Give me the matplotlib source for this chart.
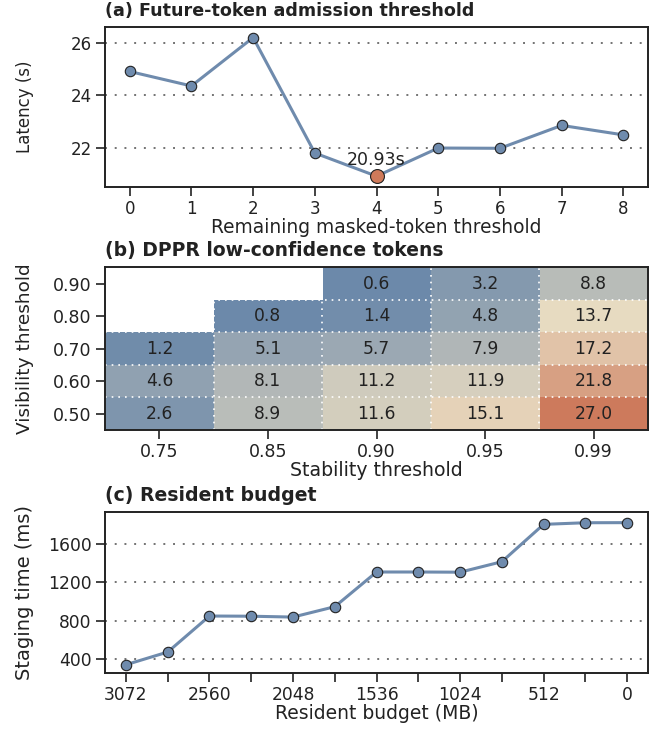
"""Three-panel sensitivity figure: admission threshold, DPPR heatmap, resident budget."""

import numpy as np
import matplotlib
matplotlib.use("Agg")
import matplotlib.pyplot as plt
from matplotlib.colors import LinearSegmentedColormap

# (a) latency vs remaining masked-token threshold
THRESHOLDS = [0, 1, 2, 3, 4, 5, 6, 7, 8]
LATENCY_S = [24.91, 24.36, 26.20, 21.81, 20.93, 22.00, 21.99, 22.86, 22.50]

# (b) DPPR low-confidence tokens (rows top->bottom = visibility 0.90 .. 0.50)
STABILITY = ["0.75", "0.85", "0.90", "0.95", "0.99"]
VISIBILITY = ["0.90", "0.80", "0.70", "0.60", "0.50"]
DPPR = [
    [np.nan, np.nan, 0.6, 3.2, 8.8],
    [np.nan, 0.8, 1.4, 4.8, 13.7],
    [1.2, 5.1, 5.7, 7.9, 17.2],
    [4.6, 8.1, 11.2, 11.9, 21.8],
    [2.6, 8.9, 11.6, 15.1, 27.0],
]

# (c) staging time vs resident budget
BUDGET_MB = [3072, 2816, 2560, 2304, 2048, 1792, 1536, 1280, 1024, 768, 512, 256, 0]
STAGING_MS = [337, 470, 848, 846, 837, 946, 1310, 1310, 1308, 1418, 1810, 1827, 1828]

BLUE = "#6f8bad"
ORANGE = "#cf7a5a"
INK = "#222222"

plt.rcParams.update({
    "font.family": "DejaVu Sans",
    "font.size": 12,
    "text.color": INK,
    "axes.labelcolor": INK,
    "axes.edgecolor": INK,
    "axes.linewidth": 1.4,
    "xtick.color": INK,
    "ytick.color": INK,
    "xtick.major.size": 6.2,
    "ytick.major.size": 6.2,
    "xtick.major.width": 1.2,
    "ytick.major.width": 1.2,
    "xtick.labelsize": 12.3,
    "ytick.labelsize": 12.3,
})

fig = plt.figure(figsize=(6.54, 7.29), dpi=100)
L, W = 0.1606, 0.8303
ax_a = fig.add_axes([L, 0.7439, W, 0.2190])
ax_b = fig.add_axes([L, 0.4102, W, 0.2232])
ax_c = fig.add_axes([L, 0.0772, W, 0.2209])

grid_kw = dict(color="0.45", linestyle=(0, (1, 4)), linewidth=1.4)


def decorate(ax, title, xlabel, ylabel, tsize, xsize, ysize):
    ax.set_title(title, loc="left", fontweight="bold", fontsize=tsize, pad=8)
    ax.set_xlabel(xlabel, fontsize=xsize, labelpad=0)
    ax.set_ylabel(ylabel, fontsize=ysize)
    ax.yaxis.set_label_coords(-0.131, 0.5)


# ---- (a)
ax_a.plot(THRESHOLDS, LATENCY_S, color=BLUE, linewidth=2.2, marker="o",
          markersize=7.5, markerfacecolor=BLUE, markeredgecolor=INK,
          markeredgewidth=0.8, zorder=3)
best = int(np.argmin(LATENCY_S))
ax_a.plot(THRESHOLDS[best], LATENCY_S[best], marker="o", markersize=10,
          markerfacecolor=ORANGE, markeredgecolor=INK, markeredgewidth=0.8,
          zorder=4)
ax_a.annotate(f"{LATENCY_S[best]:.2f}s", (THRESHOLDS[best], LATENCY_S[best]),
              xytext=(0, 5), textcoords="offset points", ha="center",
              va="bottom", fontsize=12.5)
ax_a.set_yticks([22, 24, 26])
ax_a.set_xticks(THRESHOLDS)
ax_a.tick_params(labelsize=12)
ax_a.set_xlim(-0.4, 8.4)
ax_a.set_ylim(min(LATENCY_S) - 0.4, max(LATENCY_S) + 0.4)
ax_a.yaxis.grid(True, **grid_kw)
ax_a.set_axisbelow(True)
decorate(ax_a, "(a) Future-token admission threshold",
         "Remaining masked-token threshold", "Latency (s)", 12.6, 13.4, 12)

# ---- (b)
cmap = LinearSegmentedColormap.from_list("bo", ["#6c89aa", "#e8dcc2", "#cd7a5c"])
cmap.set_bad("white")
vals = np.ma.masked_invalid(np.array(DPPR))
nr, nc = vals.shape
ax_b.imshow(vals, cmap=cmap, aspect="auto", interpolation="nearest",
            vmin=vals.min(), vmax=vals.max(),
            extent=(-0.5, nc - 0.5, nr - 0.5, -0.5))
for i in range(nr):
    for j in range(nc):
        if not np.ma.is_masked(vals[i, j]):
            ax_b.text(j, i, f"{vals[i, j]:.1f}", ha="center", va="center",
                      fontsize=12.3, color=INK)
for k in range(1, nr):
    ax_b.axhline(k - 0.5, color="white", linestyle=(0, (1, 3)), linewidth=1.2)
for k in range(1, nc):
    ax_b.axvline(k - 0.5, color="white", linestyle=(0, (1, 3)), linewidth=1.2)
ax_b.set_xticks(range(nc))
ax_b.set_xticklabels(STABILITY)
ax_b.set_yticks(range(nr))
ax_b.set_yticklabels(VISIBILITY)
ax_b.tick_params(labelsize=12.5)
ax_b.set_xlim(-0.5, nc - 0.5)
ax_b.set_ylim(nr - 0.5, -0.5)
decorate(ax_b, "(b) DPPR low-confidence tokens",
         "Stability threshold", "Visibility threshold", 13.5, 13.6, 13.3)

# ---- (c)
ax_c.plot(BUDGET_MB, STAGING_MS, color=BLUE, linewidth=2.2, marker="o",
          markersize=7.5, markerfacecolor=BLUE, markeredgecolor=INK,
          markeredgewidth=0.8, zorder=3)
ax_c.set_xticks(BUDGET_MB)
ax_c.set_xticklabels([str(b) if i % 2 == 0 else "" for i, b in enumerate(BUDGET_MB)])
ax_c.set_xlim(BUDGET_MB[0] + 128, BUDGET_MB[-1] - 128)
ax_c.set_yticks([400, 800, 1200, 1600])
ax_c.set_ylim(253, 1943)
ax_c.yaxis.grid(True, **grid_kw)
ax_c.set_axisbelow(True)
decorate(ax_c, "(c) Resident budget", "Resident budget (MB)",
         "Staging time (ms)", 13.6, 13.5, 14)

fig.savefig("out.png", dpi=100)
